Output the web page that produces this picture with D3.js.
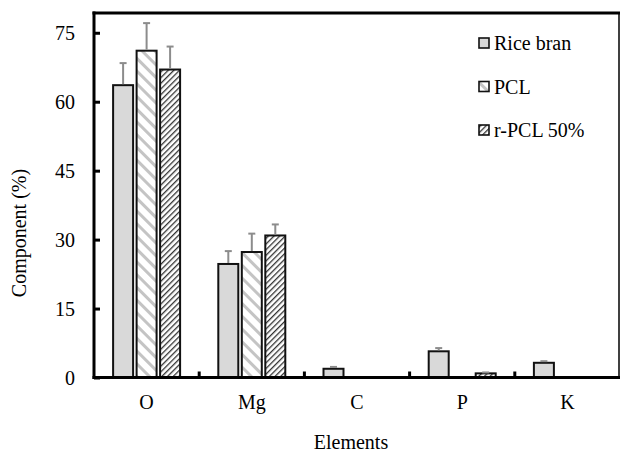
<!DOCTYPE html>
<html>
<head>
<meta charset="utf-8">
<script src="https://cdn.jsdelivr.net/npm/d3@7"></script>
<style>
  body { margin: 0; background: #fff; }
  svg { display: block; }
</style>
</head>
<body>
<svg id="chart" width="621" height="452"></svg>
<script>
// data
var elements = ["O", "Mg", "C", "P", "K"];
var seriesNames = ["Rice bran", "PCL", "r-PCL 50%"];
var riceBran = [63.6, 24.7, 1.9, 5.7, 3.2];
var riceBranErr = [4.8, 2.8, 0.4, 0.7, 0.35];
var pcl = [71.1, 27.3, 0, 0, 0];
var pclErr = [6.0, 4.0, 0, 0, 0];
var rpcl = [67.0, 30.9, 0, 0.9, 0];
var rpclErr = [5.0, 2.4, 0, 0.2, 0];
var yTicks = [0, 15, 30, 45, 60, 75];

var svg = d3.select("#chart");
var margin = {left: 94, top: 13, right: 1, bottom: 74};
var W = 621, H = 452;
var FS = 20;

var allVals = [riceBran, pcl, rpcl];
var allErrs = [riceBranErr, pclErr, rpclErr];

var x = d3.scaleBand().domain(elements).range([margin.left, W - margin.right]).padding(0);
var xSub = d3.scaleBand().domain(seriesNames).range([0, x.bandwidth()])
  .paddingInner(0.149).paddingOuter(0.813);
var y = d3.scaleLinear().domain([0, 79.3]).range([H - margin.bottom - 0.5, margin.top]);

function label(sel, tx, ty, txt, anchor) {
  return sel.append("text")
    .attr("x", tx).attr("y", ty)
    .attr("text-anchor", anchor || "start")
    .style("font-family", "'Liberation Serif', serif")
    .style("font-size", FS + "px")
    .attr("fill", "#000")
    .text(txt);
}

// patterns
var defs = svg.append("defs");
var p1 = defs.append("pattern").attr("id", "pclPat")
  .attr("patternUnits", "userSpaceOnUse").attr("width", 9).attr("height", 9)
  .attr("patternTransform", "rotate(-45)");
p1.append("rect").attr("width", 9).attr("height", 9).attr("fill", "#fff");
p1.append("rect").attr("x", 0).attr("width", 3).attr("height", 9).attr("fill", "#c4c4c4");

var p2 = defs.append("pattern").attr("id", "rpclPat")
  .attr("patternUnits", "userSpaceOnUse").attr("width", 4).attr("height", 4)
  .attr("patternTransform", "rotate(45)");
p2.append("rect").attr("width", 4).attr("height", 4).attr("fill", "#fff");
p2.append("rect").attr("x", 0).attr("width", 1.3).attr("height", 4).attr("fill", "#333");

var fills = ["#d9d9d9", "url(#pclPat)", "url(#rpclPat)"];

// bars
seriesNames.forEach(function(s, si) {
  var rows = elements.map(function(e, i) {
    return {el: e, v: allVals[si][i], err: allErrs[si][i]};
  }).filter(function(d) { return d.v > 0; });

  var g = svg.append("g");
  g.selectAll("rect").data(rows).enter().append("rect")
    .attr("x", function(d) { return x(d.el) + xSub(s); })
    .attr("y", function(d) { return y(d.v); })
    .attr("width", xSub.bandwidth())
    .attr("height", function(d) { return y(0) - y(d.v); })
    .attr("fill", fills[si])
    .attr("stroke", "#111")
    .attr("stroke-width", 2);

  // error bars (upper only)
  var cx = function(d) { return x(d.el) + xSub(s) + xSub.bandwidth() / 2; };
  var eb = g.selectAll("g.err").data(rows).enter().append("g").attr("class", "err");
  eb.append("line")
    .attr("x1", cx).attr("x2", cx)
    .attr("y1", function(d) { return y(d.v) - 1; })
    .attr("y2", function(d) { return y(d.v + d.err); })
    .attr("stroke", "#8c8c8c").attr("stroke-width", 2);
  eb.append("line")
    .attr("x1", function(d) { return cx(d) - 3.5; })
    .attr("x2", function(d) { return cx(d) + 3.5; })
    .attr("y1", function(d) { return y(d.v + d.err); })
    .attr("y2", function(d) { return y(d.v + d.err); })
    .attr("stroke", "#8c8c8c").attr("stroke-width", 2);
});

// frame
var x0 = margin.left, x1 = W - margin.right, y0 = y(0), yTop = margin.top;
svg.append("line").attr("x1", x0 - 1.5).attr("x2", x1).attr("y1", yTop).attr("y2", yTop)
  .attr("stroke", "#000").attr("stroke-width", 3);
svg.append("line").attr("x1", x1 - 1).attr("x2", x1 - 1).attr("y1", yTop).attr("y2", y0)
  .attr("stroke", "#000").attr("stroke-width", 1.5);

// y axis
var yAxis = d3.axisRight(y).tickValues(yTicks).tickSize(6).tickFormat("");
var yg = svg.append("g").attr("transform", "translate(" + x0 + ",0)").call(yAxis);
yg.select(".domain").attr("stroke-width", 3).attr("d", "M0," + (y0 + 1.5) + "V" + (yTop - 1.5));
yg.selectAll(".tick line").attr("stroke-width", 3);
var ylab = svg.append("g");
yTicks.forEach(function(t) { label(ylab, 75, y(t) + 7, t, "end"); });

// x axis
var xg = svg.append("g").attr("transform", "translate(0," + y0 + ")");
xg.append("line").attr("x1", x0 - 1.5).attr("x2", x1).attr("y1", 0).attr("y2", 0)
  .attr("stroke", "#000").attr("stroke-width", 3);
xg.selectAll("line.sep").data(elements.slice(1)).enter().append("line").attr("class", "sep")
  .attr("x1", function(d) { return x(d); }).attr("x2", function(d) { return x(d); })
  .attr("y1", 0).attr("y2", -6).attr("stroke", "#000").attr("stroke-width", 3);
elements.forEach(function(e) { label(xg, x(e) + x.bandwidth() / 2, 31.5, e, "middle"); });

// axis titles
label(svg, 351, 449, "Elements", "middle");
label(svg, 0, 0, "Component (%)", "middle").attr("transform", "translate(26,233) rotate(-90)");

// legend
var leg = svg.append("g");
seriesNames.forEach(function(s, i) {
  var cy = 43 + i * 43.5;
  leg.append("rect").attr("x", 479).attr("y", cy - 5).attr("width", 10).attr("height", 10)
    .attr("fill", fills[i]).attr("stroke", "#111").attr("stroke-width", 1.6);
  label(leg, 494, cy + 7, s);
});
</script>
</body>
</html>
